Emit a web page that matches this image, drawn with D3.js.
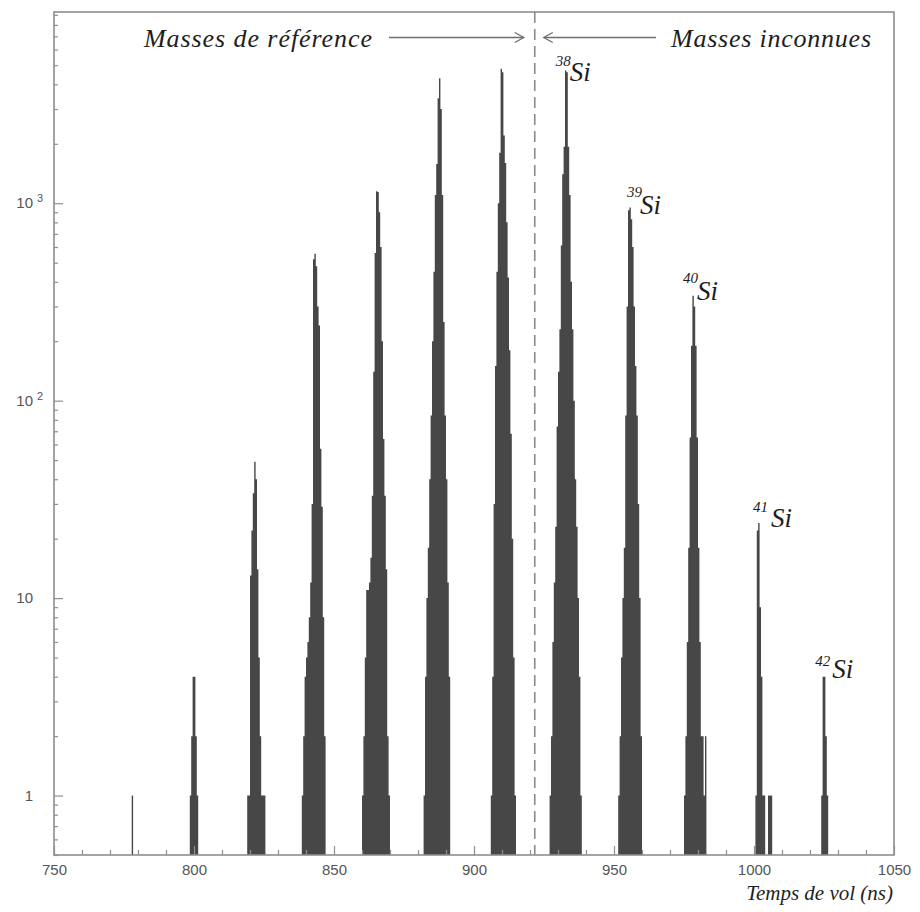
<!DOCTYPE html>
<html>
<head>
<meta charset="utf-8">
<script src="https://cdn.jsdelivr.net/npm/d3@7"></script>
<style>
  body { margin: 0; background: #fff; }
  svg { display: block; }
</style>
</head>
<body>
<svg id="chart" width="920" height="912"></svg>
<script>
// Time-of-flight spectrum (counts per 0.5 ns bin), log scale
const binWidth = 0.5; // ns

// left edge (ns) of the first bin of each peak
const peakStarts = [777.75, 798.5, 819.0, 838.5, 860.0, 882.0, 906.0, 927.0, 951.5, 975.0, 1000.5, 1005.0, 1024.0];

// counts of consecutive bins for each peak
const peakCounts = [
  [1],
  [1, 2, 4, 4, 2, 1],
  [1, 1, 13, 22, 34, 49, 40, 14, 5, 2, 1, 1, 1],
  [1, 2, 4, 5, 6, 8, 12, 30, 520, 555, 480, 300, 240, 57, 29, 8, 2],
  [1, 2, 5, 11, 11, 12, 16, 33, 140, 560, 1150, 1140, 900, 600, 200, 64, 33, 14, 2, 1],
  [1, 4, 10, 18, 40, 84, 200, 450, 1100, 1580, 3400, 4300, 3000, 1100, 250, 84, 40, 12, 4],
  [1, 4, 30, 150, 450, 1000, 1800, 4800, 4600, 2200, 1600, 800, 420, 180, 68, 20, 5, 1],
  [1, 2, 6, 12, 23, 74, 140, 230, 610, 1400, 1930, 4700, 4600, 1930, 1100, 400, 230, 100, 40, 23, 10, 4, 1],
  [1, 2, 5, 10, 18, 84, 300, 920, 950, 830, 600, 300, 150, 84, 30, 10, 2],
  [1, 2, 6, 18, 65, 190, 340, 300, 190, 65, 18, 6, 2, 2, 1, 2],
  [1, 22, 24, 9, 4, 1, 1],
  [1, 1, 1],
  [1, 4, 4, 2, 1]
];

// silicon isotopes and the peak each one names
const isotopeMass = ["38", "39", "40", "41", "42"];
const isotopePeak = [7, 8, 9, 10, 12];

const xTicksMajor = [750, 800, 850, 900, 950, 1000, 1050];
const yTicksMajor = [1, 10, 100, 1000];
const yTickExp = [null, null, "2", "3"];

const xDomain = [750, 1050];
const yDomain = [0.5, 9300];
const boundaryTime = 921.7; // reference / unknown masses

const svg = d3.select("#chart");
const plot = { left: 54, right: 894, top: 12, bottom: 855 };

const x = d3.scaleLinear().domain(xDomain).range([plot.left, plot.right]);
const y = d3.scaleLog().domain(yDomain).range([plot.bottom, plot.top]);

const frameColor = "#8e8e8e";
const tickTextColor = "#555";
const barColor = "#474747";
const serif = "'Liberation Serif', 'Times New Roman', serif";
const sans = "'Liberation Sans', Arial, sans-serif";

// ---- histogram peaks as filled step areas
const area = d3.area()
  .x(d => x(d.t))
  .y0(y(yDomain[0]))
  .y1(d => y(d.c))
  .curve(d3.curveStepAfter);

const peaks = peakCounts.map((counts, i) => {
  const pts = counts.map((c, j) => ({ t: peakStarts[i] + j * binWidth, c }));
  pts.push({ t: peakStarts[i] + counts.length * binWidth, c: counts[counts.length - 1] });
  return pts;
});

svg.append("g").selectAll("path")
  .data(peaks)
  .join("path")
  .attr("d", area)
  .attr("fill", barColor);

// ---- divider between reference and unknown masses
svg.append("line")
  .attr("x1", x(boundaryTime)).attr("x2", x(boundaryTime))
  .attr("y1", plot.top).attr("y2", plot.bottom)
  .attr("stroke", "#8a8a8a").attr("stroke-width", 1.6)
  .attr("stroke-dasharray", "11,6");

// ---- frame
svg.append("rect")
  .attr("x", plot.left).attr("y", plot.top)
  .attr("width", plot.right - plot.left).attr("height", plot.bottom - plot.top)
  .attr("fill", "none").attr("stroke", frameColor).attr("stroke-width", 1.6);

// ---- x axis (ticks point inwards)
const xMinor = d3.range(760, 1050, 10).filter(v => v % 50 !== 0);
const gx = svg.append("g").attr("transform", `translate(0,${plot.bottom})`);
gx.append("g").call(d3.axisBottom(x).tickValues(xMinor).tickSize(-5).tickFormat(""))
  .call(g => g.select(".domain").remove());
gx.append("g").call(d3.axisBottom(x).tickValues(xTicksMajor).tickSize(-9).tickPadding(9).tickFormat(d3.format("d")))
  .call(g => g.select(".domain").remove());
gx.selectAll("line").attr("stroke", frameColor).attr("stroke-width", 1.2);
gx.selectAll("text").attr("fill", tickTextColor).attr("font-family", sans).attr("font-size", 15);

// ---- y axis (log, ticks point inwards)
const yMinor = [];
[0.1, 1, 10, 100, 1000].forEach(dec => {
  for (let k = 2; k <= 9; k++) {
    const v = k * dec;
    if (v >= yDomain[0] && v <= yDomain[1]) yMinor.push(v);
  }
});
const gy = svg.append("g").attr("transform", `translate(${plot.left},0)`);
gy.append("g").call(d3.axisLeft(y).tickValues(yMinor).tickSize(-4).tickFormat(""))
  .call(g => g.select(".domain").remove());
gy.append("g").call(d3.axisLeft(y).tickValues(yTicksMajor).tickSize(-9).tickFormat(""))
  .call(g => g.select(".domain").remove());
gy.selectAll("line").attr("stroke", frameColor).attr("stroke-width", 1.2);

// tick labels: 1, 10, 10², 10³
const yLab = svg.append("g").attr("font-family", sans).attr("font-size", 15).attr("fill", tickTextColor);
yTicksMajor.forEach((v, i) => {
  const yy = y(v) + 5;
  const exp = yTickExp[i];
  yLab.append("text")
    .attr("x", 33).attr("y", yy).attr("text-anchor", "end")
    .text(exp ? "10" : String(v));
  if (exp) {
    yLab.append("text")
      .attr("x", 37).attr("y", yy - 6).attr("font-size", 11)
      .text(exp);
  }
});

// ---- x axis title
svg.append("text")
  .attr("x", 893).attr("y", 900).attr("text-anchor", "end")
  .attr("font-family", serif).attr("font-style", "italic").attr("font-size", 21)
  .attr("fill", "#1e1e1e")
  .text("Temps de vol (ns)");

// ---- region headings with arrows
const head = svg.append("g").attr("font-family", serif).attr("font-style", "italic")
  .attr("font-size", 26).attr("fill", "#1e1e1e");
head.append("text").attr("x", 144).attr("y", 47)
  .attr("textLength", 228).attr("lengthAdjust", "spacing")
  .text("Masses de référence");
head.append("text").attr("x", 671).attr("y", 47)
  .attr("textLength", 200).attr("lengthAdjust", "spacing")
  .text("Masses inconnues");

const xb = x(boundaryTime);
const arrowY = 37.5;
const arrows = svg.append("g").attr("stroke", "#6e6e6e").attr("stroke-width", 1.3).attr("fill", "none");
arrows.append("line").attr("x1", 389).attr("x2", xb - 11).attr("y1", arrowY).attr("y2", arrowY);
arrows.append("path").attr("d", `M${xb - 20},${arrowY - 5} L${xb - 11},${arrowY} L${xb - 20},${arrowY + 5}`);
arrows.append("line").attr("x1", xb + 9).attr("x2", 656).attr("y1", arrowY).attr("y2", arrowY);
arrows.append("path").attr("d", `M${xb + 18},${arrowY - 5} L${xb + 9},${arrowY} L${xb + 18},${arrowY + 5}`);

// ---- isotope labels placed next to the top of each peak
const labelOffsets = [
  { dx: -10, dy: -5, sx: 4, sy: 10 },
  { dx: -3, dy: -11, sx: 10, sy: 6 },
  { dx: -10, dy: -13, sx: 4, sy: 4 },
  { dx: -6, dy: -11, sx: 12, sy: 4 },
  { dx: -8, dy: -11, sx: 9, sy: 1 }
];
const isoG = svg.append("g").attr("font-family", serif).attr("font-style", "italic").attr("fill", "#1e1e1e");
isotopeMass.forEach((m, i) => {
  const p = isotopePeak[i];
  const counts = peakCounts[p];
  const jMax = counts.indexOf(d3.max(counts));
  const tx = x(peakStarts[p] + (jMax + 0.5) * binWidth);
  const ty = y(counts[jMax]);
  const o = labelOffsets[i];
  isoG.append("text").attr("x", tx + o.dx).attr("y", ty + o.dy).attr("font-size", 15).text(m);
  isoG.append("text").attr("x", tx + o.sx).attr("y", ty + o.sy).attr("font-size", 27).text("Si");
});
</script>
</body>
</html>
